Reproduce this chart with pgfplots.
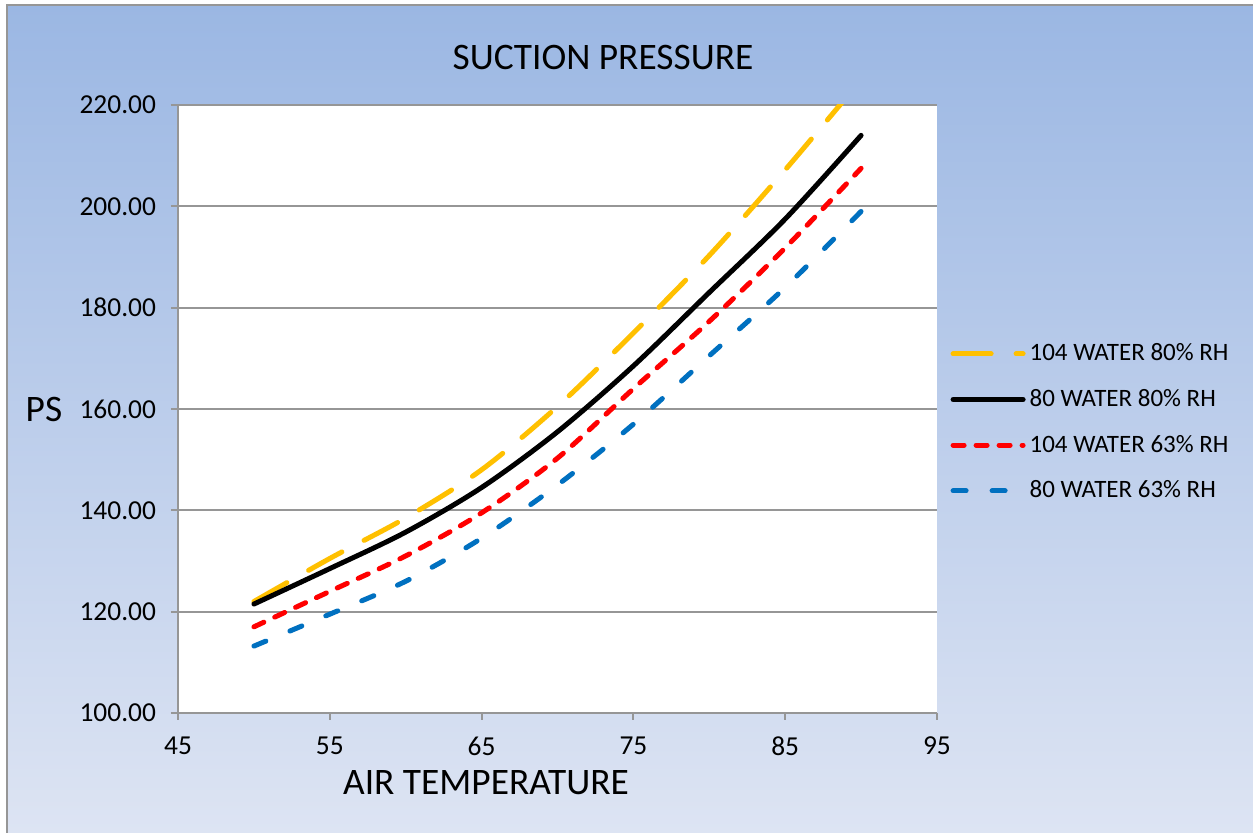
\documentclass[border=0pt]{standalone}
\usepackage{pgfplots}
\pgfplotsset{compat=1.18}
\usepackage{fontspec}
\setmainfont{Carlito}

\definecolor{bgtop}{RGB}{155,183,227}
\definecolor{bgbot}{RGB}{221,228,243}
\definecolor{gridgray}{RGB}{150,150,150}
\definecolor{yell}{RGB}{255,192,0}
\definecolor{blu}{RGB}{0,112,192}

\begin{document}
\begin{tikzpicture}
% page and chart area (1 px = 0.5 pt)
\fill[white] (-89pt,-60pt) rectangle (537.5pt,356.5pt);
\path[use as bounding box] (-89pt,-60pt) rectangle (537.5pt,356.5pt);
\shade[top color=bgtop, bottom color=bgbot] (-85.5pt,-60pt) rectangle (537.5pt,354pt);
\draw[gridgray, line width=1pt] (-85.5pt,-60pt) -- (-85.5pt,354pt) -- (537.5pt,354pt);

\node[font=\fontsize{18.7}{22}\selectfont] at (212.5pt,327.5pt) {SUCTION PRESSURE};
\node[font=\fontsize{18.7}{22}\selectfont] at (-67pt,151.5pt) {PS};
\node[font=\fontsize{18.7}{22}\selectfont] at (154pt,-35pt) {AIR TEMPERATURE};

\begin{axis}[
    scale only axis,
    width=379.5pt, height=304pt,
    xmin=45, xmax=95,
    ymin=100, ymax=220,
    xtick={45,55,65,75,85,95},
    ytick={100,120,140,160,180,200,220},
    axis lines=left,
    axis line style={-, gridgray, line width=1pt},
    axis background/.style={fill=white},
    ymajorgrids=true,
    grid style={gridgray, line width=1pt},
    tick align=outside,
    major tick length=3.5pt,
    tick style={gridgray, line width=1pt},
    ticklabel style={font=\fontsize{13.7}{16}\selectfont},
    xticklabel style={yshift=-5pt},
    /pgf/number format/assume math mode=true,
    yticklabel style={xshift=-4pt, /pgf/number format/.cd, fixed, fixed zerofill, precision=2},
    scaled y ticks=false,
    legend style={at={(1.0095,0.478)}, anchor=west, draw=none, fill=none,
        font=\fontsize{12.5}{15}\selectfont, row sep=8.8pt},
    legend cell align=left,
    legend image code/.code={\draw[#1] (0pt,0pt) -- (35pt,0pt);},
    every axis plot/.append style={line width=2.5pt, line cap=round, smooth},
]

\addplot[color=yell, dash pattern=on 19pt off 12.5pt]
    coordinates {
    (50,122)(55,130.5)(60,138.5)(65,148)(70,160.5)(75,175)(80,190.3)(85,207.2)(90,225)
    };
    \addlegendentry{104 WATER 80\% RH}

\addplot[color=black]
    coordinates {
    (50,121.5)(55,128.5)(60,135.7)(65,144.5)(70,155.5)(75,168.5)(80,183)(85,197.5)(90,214)
    };
    \addlegendentry{80 WATER 80\% RH}

\addplot[color=red, dash pattern=on 5.5pt off 6pt]
    coordinates {
    (50,117)(55,124)(60,131)(65,139.5)(70,150.3)(75,164)(80,177.3)(85,191.8)(90,207.5)
    };
    \addlegendentry{104 WATER 63\% RH}

\addplot[color=blu, dash pattern=on 6.5pt off 13pt]
    coordinates {
    (50,113.2)(55,119.5)(60,126)(65,134.5)(70,145)(75,157)(80,170.5)(85,184)(90,199)
    };
    \addlegendentry{80 WATER 63\% RH}

\end{axis}
\end{tikzpicture}
\end{document}
